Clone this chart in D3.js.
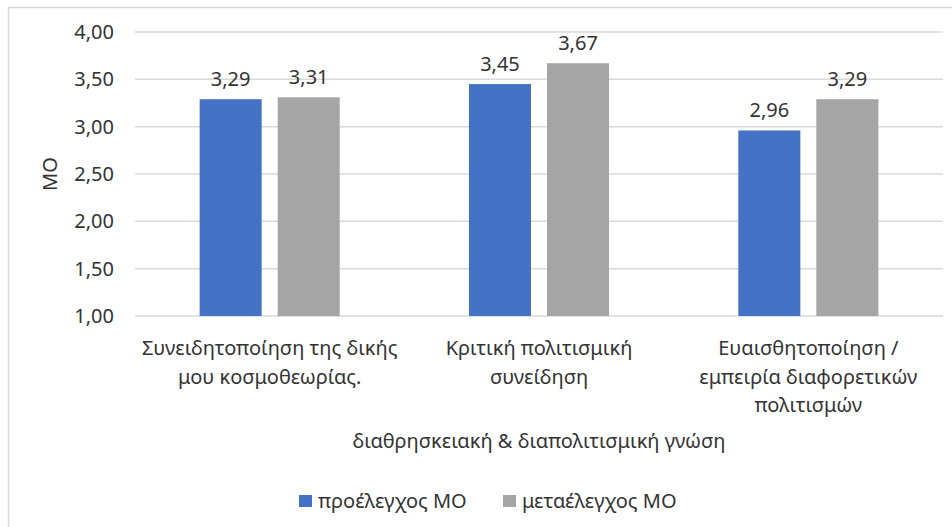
<!DOCTYPE html>
<html>
<head>
<meta charset="utf-8">
<script src="https://cdn.jsdelivr.net/npm/d3@7"></script>
<style>
  body { margin: 0; background: #fff; }
  svg { display: block; font-family: "Noto Sans", sans-serif; }
</style>
</head>
<body>
<svg class="chart" width="952" height="527"></svg>
<script>
// data
var categories = [
  "Συνειδητοποίηση της δικής\nμου κοσμοθεωρίας.",
  "Κριτική πολιτισμική\nσυνείδηση",
  "Ευαισθητοποίηση /\nεμπειρία διαφορετικών\nπολιτισμών"
];
var series = ["προέλεγχος ΜΟ", "μεταέλεγχος ΜΟ"];
var preValues = [3.29, 3.45, 2.96];
var postValues = [3.31, 3.67, 3.29];
var yTicks = [1.0, 1.5, 2.0, 2.5, 3.0, 3.5, 4.0];
var xTitle = "διαθρησκειακή & διαπολιτισμική γνώση";
var yTitle = "ΜΟ";

var colors = ["#4472C4", "#A5A5A5"];
var textColor = "#333333";
var fontSize = "20px";

var svg = d3.select(".chart"),
    width = +svg.attr("width"),
    height = +svg.attr("height");

var margin = {left: 135, right: 9, top: 32, bottom: 211};

var locale = d3.formatLocale({decimal: ",", thousands: ".", grouping: [3], currency: ["", "€"]});
var fmt = locale.format(".2f");

var x0 = d3.scaleBand()
    .domain(d3.range(categories.length))
    .range([margin.left, width - margin.right])
    .paddingInner(0.48)
    .paddingOuter(0.24);

var x1 = d3.scaleBand()
    .domain(d3.range(series.length))
    .range([0, x0.bandwidth()])
    .paddingInner(0.205);

var y = d3.scaleLinear()
    .domain([1, 4])
    .range([height - margin.bottom, margin.top]);

var color = d3.scaleOrdinal().domain(d3.range(series.length)).range(colors);

// chart border
svg.append("rect")
    .attr("x", 8.5).attr("y", 7.5)
    .attr("width", 960).attr("height", 540)
    .attr("fill", "none")
    .attr("stroke", "#d9d9d9")
    .attr("stroke-width", 1.5);

// gridlines
svg.append("g")
  .selectAll("line")
  .data(yTicks)
  .enter().append("line")
    .attr("x1", margin.left)
    .attr("x2", width - margin.right)
    .attr("y1", function(d) { return y(d); })
    .attr("y2", function(d) { return y(d); })
    .attr("stroke", "#d9d9d9")
    .attr("stroke-width", 1.5);

// y axis labels
var yAxis = svg.append("g")
    .attr("transform", "translate(" + (margin.left - 6) + ",0)")
    .call(d3.axisLeft(y).tickValues(yTicks).tickFormat(fmt).tickSize(0).tickPadding(15));
yAxis.select(".domain").remove();
yAxis.selectAll("text")
    .attr("font-family", "Noto Sans")
    .style("font-size", fontSize)
    .attr("fill", textColor);

// bars
var data = categories.map(function(c, i) { return [preValues[i], postValues[i]]; });

var groups = svg.append("g")
  .selectAll("g")
  .data(data)
  .enter().append("g")
    .attr("transform", function(d, i) { return "translate(" + x0(i) + ",0)"; });

groups.selectAll("rect")
  .data(function(d) { return d; })
  .enter().append("rect")
    .attr("x", function(d, j) { return x1(j); })
    .attr("y", function(d) { return y(d); })
    .attr("width", x1.bandwidth())
    .attr("height", function(d) { return y(1) - y(d); })
    .attr("fill", function(d, j) { return color(j); });

groups.selectAll("text.val")
  .data(function(d) { return d; })
  .enter().append("text")
    .attr("class", "val")
    .attr("x", function(d, j) { return x1(j) + x1.bandwidth() / 2; })
    .attr("y", function(d) { return y(d) - 13; })
    .attr("text-anchor", "middle")
    .style("font-size", fontSize)
    .attr("fill", textColor)
    .text(function(d) { return fmt(d); });

// category labels
var catLabels = svg.append("g")
  .selectAll("text")
  .data(categories)
  .enter().append("text")
    .attr("text-anchor", "middle")
    .attr("x", function(d, i) { return x0(i) + x0.bandwidth() / 2; })
    .attr("y", 355)
    .style("font-size", fontSize)
    .attr("fill", textColor);

catLabels.selectAll("tspan")
  .data(function(d) { return d.split("\n"); })
  .enter().append("tspan")
    .attr("x", function() { return d3.select(this.parentNode).attr("x"); })
    .attr("dy", function(d, k) { return k === 0 ? 0 : 28.5; })
    .text(function(d) { return d; });

// axis titles
svg.append("text")
    .attr("x", (margin.left + width - margin.right) / 2)
    .attr("y", 448)
    .attr("text-anchor", "middle")
    .style("font-size", fontSize)
    .attr("fill", textColor)
    .text(xTitle);

svg.append("text")
    .attr("transform", "translate(57," + ((y(1) + y(4)) / 2) + ") rotate(-90)")
    .attr("text-anchor", "middle")
    .style("font-size", fontSize)
    .attr("fill", textColor)
    .text(yTitle);

// legend
var legendX = [299, 503];
var legend = svg.append("g")
  .selectAll("g")
  .data(series)
  .enter().append("g")
    .attr("transform", function(d, i) { return "translate(" + legendX[i] + ",495)"; });

legend.append("rect")
    .attr("width", 13).attr("height", 12)
    .attr("fill", function(d, i) { return color(i); });

legend.append("text")
    .attr("x", 19)
    .attr("y", 13)
    .style("font-size", fontSize)
    .attr("fill", textColor)
    .text(function(d) { return d; });
</script>
</body>
</html>
